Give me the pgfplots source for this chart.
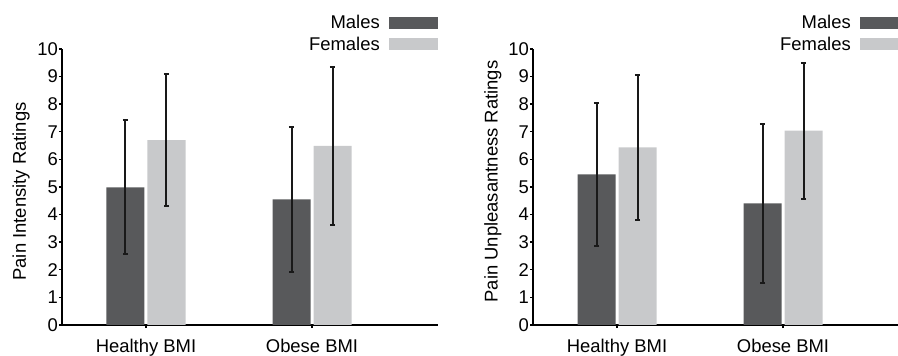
\documentclass[border=0pt]{standalone}
\usepackage{fontspec}
\setmainfont{Liberation Sans}
\usepackage{pgfplots}
\pgfplotsset{compat=1.18}
\definecolor{darkbar}{HTML}{58595B}
\definecolor{lightbar}{HTML}{C8C9CB}
\pgfplotsset{
 mybars/.style={
  scale only axis, width=376bp, height=276bp,
  ymin=0, ymax=10, ytick={0,1,...,10},
  xmin=-0.506, xmax=1.759, xtick={0,1}, xticklabels={Healthy BMI, Obese BMI},
  axis x line*=bottom, axis y line*=left,
  axis line style={line width=1.8bp, black},
  tick style={line width=1.4bp, black},
  tick align=outside, major tick length=3bp,
  ybar=3bp, bar width=38bp,
  font=\fontsize{18.5}{22}\selectfont,
  /pgf/number format/assume math mode=true,
  yticklabel style={inner sep=1bp},
  xticklabel style={inner sep=0pt, yshift=-11bp},
  legend style={draw=none, fill=none, at={(1,1)}, anchor=south east, inner sep=0pt, yshift=-3bp,
    row sep=7bp, column sep=9bp, nodes={inner sep=0pt}, font=\fontsize{18.5}{22}\selectfont},
  legend plot pos=right, legend cell align=right,
 },
 eb/.style={error bars/.cd, y dir=both, y explicit,
   error bar style={line width=2bp, draw=black!90, solid},
   error mark options={rotate=90, mark size=2.6bp, line width=2bp, draw=black!90, solid}},
 darklegend/.style={legend image code/.code={\fill[darkbar] (0bp,-6bp) rectangle (49bp,6bp);}},
 lightlegend/.style={legend image code/.code={\fill[lightbar] (0bp,-6bp) rectangle (49bp,6bp);}},
}
\begin{document}
\begin{tikzpicture}
\useasboundingbox (0,0) rectangle (898bp,356bp);
\begin{axis}[mybars, at={(62bp,31bp)}, anchor=south west,
  ylabel={Pain Intensity Ratings},
  ylabel style={at={(axis description cs:-0.109,0.484)}, anchor=center}]
\addplot[fill=darkbar, draw=none, darklegend, eb] coordinates {(0,4.99) +- (0,2.42) (1,4.55) +- (0,2.62)};
\addplot[fill=lightbar, draw=none, lightlegend, eb] coordinates {(0,6.70) +- (0,2.40) (1,6.49) +- (0,2.86)};
\legend{Males, Females}
\end{axis}
\begin{axis}[mybars, at={(533bp,31bp)}, anchor=south west,
  ylabel={Pain Unpleasantness Ratings},
  ylabel style={at={(axis description cs:-0.107,0.52)}, anchor=center}]
\addplot[fill=darkbar, draw=none, darklegend, eb] coordinates {(0,5.46) +- (0,2.60) (1,4.41) +- (0,2.89)};
\addplot[fill=lightbar, draw=none, lightlegend, eb] coordinates {(0,6.44) +- (0,2.63) (1,7.04) +- (0,2.47)};
\legend{Males, Females}
\end{axis}
\end{tikzpicture}
\end{document}
